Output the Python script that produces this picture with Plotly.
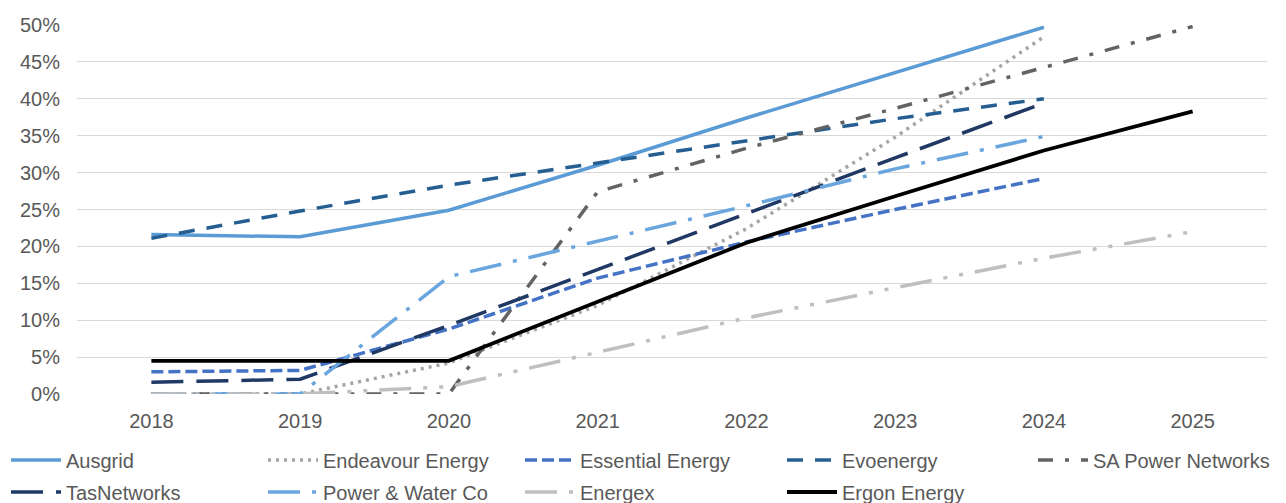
import plotly.graph_objects as go

years = ["2018", "2019", "2020", "2021", "2022", "2023", "2024", "2025"]

# Share of customers (%) by network, per year
ausgrid = [21.6, 21.3, 24.9, 31.0, 37.4, 43.6, 49.7, None]
endeavour = [0.0, 0.0, 4.2, 12.0, 22.4, 34.8, 48.4, None]
essential = [3.0, 3.2, 8.8, 15.7, 20.6, 25.0, 29.2, None]
evoenergy = [21.1, 24.8, 28.3, 31.3, 34.2, 37.3, 40.0, None]
sa_power = [0.0, 0.0, 0.0, 27.4, 33.3, 38.7, 44.3, 49.8]
tasnetworks = [1.6, 2.0, 9.3, 16.9, 24.5, 32.0, 39.4, None]
power_water = [0.0, 0.0, 15.9, 20.7, 25.5, 30.5, 34.9, None]
energex = [0.0, 0.0, 1.0, 5.6, 10.3, 14.4, 18.4, 22.0]
ergon = [4.5, 4.5, 4.5, 12.5, 20.5, 26.8, 33.0, 38.3]

y_ticks = [0, 5, 10, 15, 20, 25, 30, 35, 40, 45, 50]
y_tick_labels = ["0%", "5%", "10%", "15%", "20%", "25%", "30%", "35%", "40%", "45%", "50%"]

# name, values, colour, dash pattern, width, legend column
series = [
    ("Ausgrid", ausgrid, "#5B9BD5", "solid", 3.5, 0),
    ("Endeavour Energy", endeavour, "#A5A5A5", "3px,5px", 3.5, 1),
    ("Essential Energy", essential, "#4472C4", "12px,5px", 3.5, 2),
    ("Evoenergy", evoenergy, "#255E91", "16px,12px", 3.5, 3),
    ("SA Power Networks", sa_power, "#636363", "15px,12px,4px,12px", 3.5, 4),
    ("TasNetworks", tasnetworks, "#203864", "32px,13px", 3.5, 0),
    ("Power & Water Co", power_water, "#6AA6DE", "32px,12px,4px,12px", 3.5, 1),
    ("Energex", energex, "#BFBFBF", "32px,12px,4px,12px,4px,12px", 3.5, 2),
    ("Ergon Energy", ergon, "#000000", "solid", 3.8, 3),
]

legend_ids = ["legend", "legend2", "legend3", "legend4", "legend5"]

fig = go.Figure()
for name, vals, color, dash, width, col in series:
    fig.add_trace(go.Scatter(
        x=years, y=vals, name=name, mode="lines",
        line=dict(color=color, dash=dash, width=width),
        connectgaps=False,
        legend=legend_ids[col],
        legendgroup=name,
    ))

font_family = "Liberation Sans, Arial, sans-serif"
W, H = 1286, 503

# One vertical legend per column, laid out as a 5-column grid under the plot
legend_left_px = [6, 263, 520, 782, 1033]
legends = {}
for lid, left in zip(legend_ids, legend_left_px):
    legends[lid] = dict(
        orientation="v",
        xref="container", yref="container",
        x=left / W, y=1 - 440.5 / H, xanchor="left", yanchor="top",
        itemwidth=50,
        traceorder="grouped", tracegroupgap=3,
        font=dict(family=font_family, size=20, color="#595959"),
        bgcolor="rgba(0,0,0,0)",
    )

fig.update_layout(
    width=W, height=H,
    margin=dict(l=77, r=19, t=25, b=109, autoexpand=False),
    paper_bgcolor="white", plot_bgcolor="white",
    font=dict(family=font_family, size=20, color="#595959"),
    showlegend=True,
    xaxis=dict(
        type="category",
        categoryorder="array", categoryarray=years,
        range=[-0.5, 7.5],
        showgrid=False, zeroline=False, showline=False,
        ticks="", ticklabelstandoff=13,
        tickfont=dict(size=20, color="#595959"),
    ),
    yaxis=dict(
        range=[0, 50],
        tickmode="array",
        tickvals=y_ticks,
        ticktext=y_tick_labels,
        showgrid=True, gridcolor="#D9D9D9", gridwidth=1,
        zeroline=False, showline=False,
        ticks="", ticklabelstandoff=16,
        tickfont=dict(size=20, color="#595959"),
    ),
    **legends,
)

fig.write_html("out.html")
